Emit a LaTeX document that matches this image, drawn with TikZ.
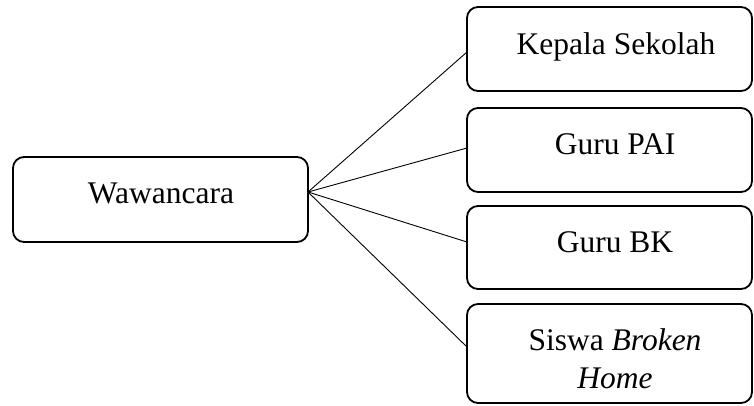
\documentclass[tikz,border=0pt]{standalone}
\usepackage{fontspec}
\setmainfont{Liberation Serif}
\begin{document}
\begin{tikzpicture}[x=1pt,y=-1pt,
  box/.style={draw, line width=1.8pt, rounded corners=11pt, inner sep=0pt, outer sep=0pt},
  lbl/.style={anchor=base, inner sep=0pt, font=\fontsize{31.5}{36.5}\selectfont},
  conn/.style={line width=0.9pt}]
\useasboundingbox (0,0) rectangle (754,405);
\node[box, minimum width=295pt, minimum height=85pt] (w) at (160.5,199.5) {};
\node[box, minimum width=285pt, minimum height=84pt] (k) at (609.5,49) {};
\node[box, minimum width=285pt, minimum height=84pt] (p) at (609.5,150) {};
\node[box, minimum width=285pt, minimum height=83pt] (b) at (609.5,247.5) {};
\node[box, minimum width=285pt, minimum height=99pt] (s) at (609.5,353.5) {};
\node[lbl] (wt) at (161,203) {Wawancara};
\node[lbl] (kt) at (616,54) {Kepala Sekolah};
\node[lbl] (pt) at (615,154) {Guru PAI};
\node[lbl] (bt) at (615,252) {Guru BK};
\node[lbl] (st1) at (615,350) {Siswa \textit{Broken}};
\node[lbl] (st2) at (615,388) {\textit{Home}};
\draw[conn] ([yshift=7.5pt]w.east) -- ([yshift=-3pt]k.west);
\draw[conn] ([yshift=7.5pt]w.east) -- ([yshift=2pt]p.west);
\draw[conn] ([yshift=7.5pt]w.east) -- ([yshift=5.5pt]b.west);
\draw[conn] ([yshift=7.5pt]w.east) -- ([yshift=6.5pt]s.west);
\end{tikzpicture}
\end{document}
